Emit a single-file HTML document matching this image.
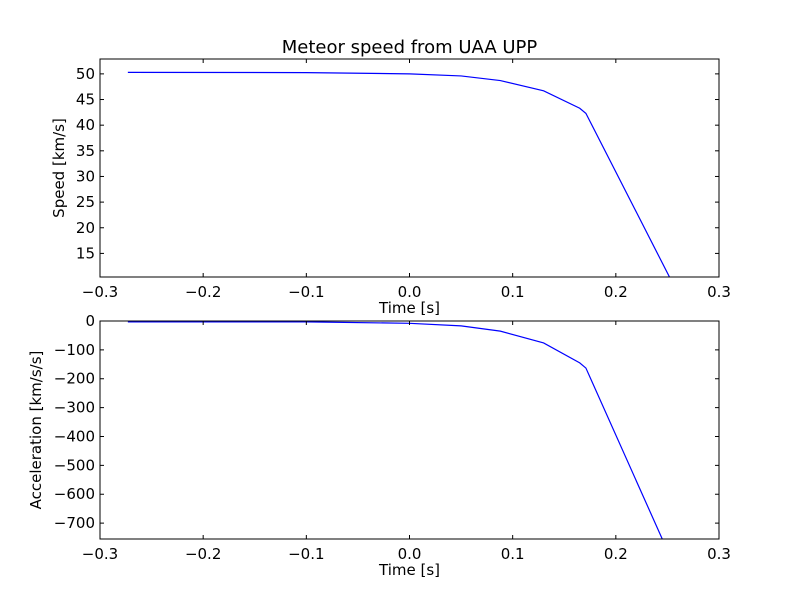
<!DOCTYPE html>
<html><head><meta charset="utf-8"><style>
body{margin:0;background:#fff;}
svg text{font-family:"DejaVu Sans","Liberation Sans",sans-serif;font-size:15px;fill:#000;}
</style></head><body>
<svg id="fig" width="800" height="600" viewBox="0 0 800 600" xmlns="http://www.w3.org/2000/svg">
<rect width="800" height="600" fill="#fff"/>
<text x="409.5" y="53" text-anchor="middle" style="font-size:18px">Meteor speed from  UAA UPP</text>
</svg>
<script>
const timeSpeed=[-0.273,-0.1,0.0,0.05,0.088,0.13,0.165,0.171,0.252];
const speedVals=[50.3,50.25,50.0,49.6,48.7,46.7,43.3,42.3,10.4];
const timeAcc=[-0.273,-0.1,0.0,0.05,0.088,0.13,0.165,0.171,0.245];
const accVals=[-3,-3,-8,-17,-35,-76,-145,-163,-755];
const xTicks=[-0.3,-0.2,-0.1,0.0,0.1,0.2,0.3];
const xTickLabels=["\u22120.3","\u22120.2","\u22120.1","0.0","0.1","0.2","0.3"];
const speedTicks=[15,20,25,30,35,40,45,50];
const accTicks=[0,-100,-200,-300,-400,-500,-600,-700];
const accTickLabels=["0","\u2212100","\u2212200","\u2212300","\u2212400","\u2212500","\u2212600","\u2212700"];

const NS="http://www.w3.org/2000/svg";
const svg=document.getElementById('fig');
function mk(tag,attrs,parent){const e=document.createElementNS(NS,tag);for(const k in attrs)e.setAttribute(k,attrs[k]);(parent||svg).appendChild(e);return e;}

function panel(name,top,bottom,ymin,ymax,xs,ys,yt,ytl,ylabel){
  const L=100,R=719;
  const g=mk('g',{});
  
  
  const X=v=>L+(v+0.3)/0.6*(R-L);
  const Y=v=>bottom-(v-ymin)/(ymax-ymin)*(bottom-top);
  const pts=xs.map((x,i)=>X(x).toFixed(2)+','+Y(ys[i]).toFixed(2)).join(' ');
  const cp=mk('clipPath',{id:name+'-clip'},g);
  mk('rect',{x:L,y:top,width:R-L,height:bottom-top},cp);
  const line=mk('polyline',{points:pts,fill:'none',stroke:'#0000ff','stroke-width':1.2,'clip-path':'url(#'+name+'-clip)'},g);
  
  
  xTicks.forEach((t,i)=>{
    const x=X(t);
    mk('line',{x1:x,y1:bottom,x2:x,y2:bottom-4,stroke:'#000'},g);
    mk('line',{x1:x,y1:top,x2:x,y2:top+4,stroke:'#000'},g);
    const tx=mk('text',{x:x,y:bottom+20,'text-anchor':'middle'},g);
    tx.textContent=xTickLabels[i];
    
    
  });
  yt.forEach((t,i)=>{
    const y=Y(t);
    mk('line',{x1:L,y1:y,x2:L+4,y2:y,stroke:'#000'},g);
    mk('line',{x1:R,y1:y,x2:R-4,y2:y,stroke:'#000'},g);
    const tx=mk('text',{x:L-5,y:y+5,'text-anchor':'end'},g);
    tx.textContent=ytl[i];
    
    
  });
  mk('rect',{x:L,y:top,width:R-L,height:bottom-top,fill:'none',stroke:'#000','stroke-width':1},g);
  const xl=mk('text',{x:409.5,y:bottom+36,'text-anchor':'middle'},g);
  xl.textContent='Time [s]';
  
  
  const cy=(top+bottom)/2;
  const yl=mk('text',{x:0,y:0,'text-anchor':'middle',transform:'translate('+(name==='speed-panel'?64:41)+','+cy+') rotate(-90)'},g);
  yl.textContent=ylabel;
  
  
}
panel('speed-panel',59,277,10.4,52.9,timeSpeed,speedVals,speedTicks,speedTicks.map(String),'Speed [km/s]');
panel('acceleration-panel',321,539,-755,0,timeAcc,accVals,accTicks,accTickLabels,'Acceleration [km/s/s]');
</script>
</body></html>
